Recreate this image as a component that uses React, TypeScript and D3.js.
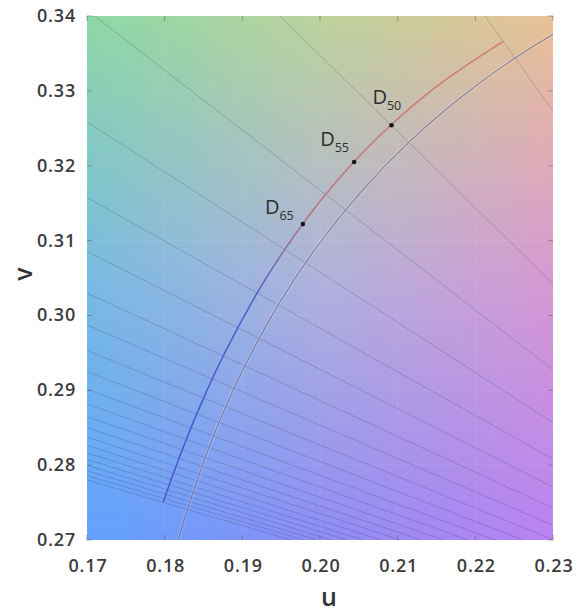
import React from "react";
import * as d3 from "d3";

const W = 579;
const H = 614;

// axes
const uTicks = [0.17, 0.18, 0.19, 0.2, 0.21, 0.22, 0.23];
const vTicks = [0.27, 0.28, 0.29, 0.3, 0.31, 0.32, 0.33, 0.34];

// Planckian locus (Robertson table): mired, u, v
const planckMired = [0, 10, 20, 30, 40, 50, 60, 70, 80, 90, 100, 125, 150, 175, 200, 225, 250, 275, 300];
const planckU = [0.18006, 0.18066, 0.18133, 0.18208, 0.18293, 0.18388, 0.18494, 0.18611, 0.1874, 0.1888, 0.19032, 0.19462, 0.19962, 0.20525, 0.21142, 0.21807, 0.22511, 0.23247, 0.2401];
const planckV = [0.26352, 0.26589, 0.26846, 0.27119, 0.27407, 0.27709, 0.28021, 0.28342, 0.28668, 0.28997, 0.29326, 0.30141, 0.30921, 0.31647, 0.32312, 0.32909, 0.33439, 0.33904, 0.34308];

// Isotherms (every 1000 K): point on locus and isotherm slope dv/du
const isoTemps = [4000, 5000, 6000, 7000, 8000, 9000, 10000, 11000, 12000, 13000, 14000, 15000, 16000, 17000, 18000, 19000, 20000, 21000, 22000, 23000, 24000, 25000];
const isoU = [0.22511, 0.21142, 0.20337, 0.19819, 0.19462, 0.19223, 0.19032, 0.18894, 0.18787, 0.187, 0.18629, 0.18572, 0.18523, 0.18482, 0.18447, 0.18416, 0.18388, 0.18365, 0.18345, 0.18326, 0.18309, 0.18293];
const isoV = [0.33439, 0.32312, 0.31405, 0.30698, 0.30141, 0.29688, 0.29326, 0.29027, 0.28778, 0.28568, 0.28389, 0.28235, 0.28101, 0.27984, 0.27882, 0.27791, 0.27709, 0.27637, 0.27572, 0.27512, 0.27457, 0.27407];
const isoSlope = [-1.4512, -1.0182, -0.80091, -0.66966, -0.58204, -0.52473, -0.47888, -0.44606, -0.42063, -0.4002, -0.38349, -0.36995, -0.35846, -0.34864, -0.34053, -0.33328, -0.32675, -0.3215, -0.31673, -0.31237, -0.30838, -0.3047];

// Daylight locus
const dayTemps = [4000, 4500, 5000, 5500, 6000, 6500, 7000, 8000, 10000, 12500, 15000, 20000, 25000];
const dayU = [0.22358, 0.21533, 0.20914, 0.20442, 0.20074, 0.19782, 0.19546, 0.19191, 0.18755, 0.18456, 0.1828, 0.18085, 0.17982];
const dayV = [0.33661, 0.33083, 0.32544, 0.32056, 0.31618, 0.31229, 0.30883, 0.303, 0.29462, 0.28788, 0.28346, 0.27812, 0.27507];

// Standard illuminants
const illumSub = ["50", "55", "65"];
const illumU = [0.2092, 0.2044, 0.1978];
const illumV = [0.3254, 0.3205, 0.3122];

// layout
const L = 87, R = 553, T = 16, B = 540;
const labelOffsets = [
  [-19, -21],
  [-34, -16],
  [-38, -10],
];

const bgTop = ["#8cd8a6", "#bcd29c", "#e8c196"];
const bgMid = ["#78bbe2", "#b0b2dc", "#d699d2"];
const bgBot = ["#60a2fe", "#8d8df6", "#ba82f2"];

const FONT = "'Open Sans', 'DejaVu Sans', sans-serif";

export default function App() {
  const x = d3.scaleLinear().domain([0.17, 0.23]).range([L, R]);
  const y = d3.scaleLinear().domain([0.27, 0.34]).range([B, T]);

  const strips: { y: number; c: string[] }[] = [];
  const sh = 2;
  for (let yy = T; yy < B; yy += sh) {
    const f = (yy + sh / 2 - T) / (B - T);
    const c = [0, 1, 2].map((i) =>
      f < 0.5
        ? d3.interpolateRgb(bgTop[i], bgMid[i])(f * 2)
        : d3.interpolateRgb(bgMid[i], bgBot[i])((f - 0.5) * 2)
    );
    strips.push({ y: yy, c });
  }

  const line = d3
    .line<[number, number]>()
    .x((d) => x(d[0]))
    .y((d) => y(d[1]))
    .curve(d3.curveCatmullRom.alpha(0.5));

  const planckPts: [number, number][] = planckU.map((u, i) => [u, planckV[i]]);
  const dayPts: [number, number][] = dayU.map((u, i) => [u, dayV[i]]);

  const half = 0.05;
  const isoLines = isoTemps.map((t, i) => {
    const m = isoSlope[i];
    const n = Math.sqrt(1 + m * m);
    const du = half / n;
    const dv = (half * m) / n;
    return {
      t,
      x1: x(isoU[i] - du),
      y1: y(isoV[i] - dv),
      x2: x(isoU[i] + du),
      y2: y(isoV[i] + dv),
    };
  });

  return (
    <svg
      width={W}
      height={H}
      style={{ position: "absolute", left: 0, top: 0, background: "#fff" }}
      fontFamily={FONT}
    >
      <defs>
        {strips.map((s, i) => (
          <linearGradient key={i} id={`bg${i}`} x1="0" x2="1" y1="0" y2="0">
            <stop offset="0" stopColor={s.c[0]} />
            <stop offset="0.5" stopColor={s.c[1]} />
            <stop offset="1" stopColor={s.c[2]} />
          </linearGradient>
        ))}
        <clipPath id="plotClip">
          <rect x={L} y={T} width={R - L} height={B - T} />
        </clipPath>
        <linearGradient
          id="dayGrad"
          gradientUnits="userSpaceOnUse"
          x1={0}
          x2={0}
          y1={y(dayV[dayV.length - 1])}
          y2={y(dayV[0])}
        >
          <stop offset="0" stopColor="#4058cc" />
          <stop offset="0.45" stopColor="#4c5ccc" />
          <stop offset="0.55" stopColor="#8c6aa8" />
          <stop offset="0.62" stopColor="#bd7080" />
          <stop offset="1" stopColor="#cf8070" />
        </linearGradient>
      </defs>

      {strips.map((s, i) => (
        <rect
          key={i}
          x={L}
          y={s.y}
          width={R - L}
          height={Math.min(sh, B - s.y)}
          fill={`url(#bg${i})`}
          shapeRendering="crispEdges"
        />
      ))}

      <g clipPath="url(#plotClip)">
        {uTicks.map((u) => (
          <line key={`gx${u}`} x1={x(u)} x2={x(u)} y1={T} y2={B} stroke="#fff" strokeOpacity={0.08} />
        ))}
        {vTicks.map((v) => (
          <line key={`gy${v}`} x1={L} x2={R} y1={y(v)} y2={y(v)} stroke="#fff" strokeOpacity={0.08} />
        ))}

        {isoLines.map((l) => (
          <line
            key={l.t}
            x1={l.x1}
            y1={l.y1}
            x2={l.x2}
            y2={l.y2}
            stroke="#3a3a5c"
            strokeOpacity={0.24}
            strokeWidth={1}
          />
        ))}

        <path d={line(planckPts) || ""} fill="none" stroke="#ffffff" strokeOpacity={0.18} strokeWidth={3.5} />
        <path d={line(planckPts) || ""} fill="none" stroke="#66668a" strokeOpacity={0.7} strokeWidth={1.2} />

        <path d={line(dayPts) || ""} fill="none" stroke="url(#dayGrad)" strokeWidth={1.5} />
      </g>

      {/* ticks inside on all four sides */}
      {uTicks.map((u) => (
        <g key={`tx${u}`} stroke="#555" strokeOpacity={0.5}>
          <line x1={x(u)} x2={x(u)} y1={B} y2={B - 5} />
          <line x1={x(u)} x2={x(u)} y1={T} y2={T + 5} />
        </g>
      ))}
      {vTicks.map((v) => (
        <g key={`ty${v}`} stroke="#555" strokeOpacity={0.5}>
          <line x1={L} x2={L + 5} y1={y(v)} y2={y(v)} />
          <line x1={R} x2={R - 5} y1={y(v)} y2={y(v)} />
        </g>
      ))}

      {/* tick labels */}
      {uTicks.map((u) => (
        <text
          key={`lx${u}`}
          x={x(u) + 1}
          y={572}
          textAnchor="middle"
          fontSize={18}
          fontWeight={600}
          fill="#3c3c3c"
          letterSpacing={0.8}
        >
          {d3.format(".2f")(u)}
        </text>
      ))}
      {vTicks.map((v) => (
        <text
          key={`ly${v}`}
          x={76}
          y={y(v) + 6}
          textAnchor="end"
          fontSize={18}
          fontWeight={600}
          fill="#3c3c3c"
          letterSpacing={0.8}
        >
          {d3.format(".2f")(v)}
        </text>
      ))}

      {/* axis titles */}
      <text x={329} y={606} textAnchor="middle" fontSize={25} fontWeight={600} fill="#333">
        u
      </text>
      <text
        transform="translate(32,274) rotate(-90)"
        textAnchor="middle"
        fontSize={25}
        fontWeight={600}
        fill="#333"
      >
        v
      </text>

      {/* illuminants */}
      {illumU.map((u, i) => {
        const px = x(u);
        const py = y(illumV[i]);
        const [dx, dy] = labelOffsets[i];
        return (
          <g key={illumSub[i]}>
            <circle cx={px} cy={py} r={2.3} fill="#151515" />
            <text x={px + dx} y={py + dy} fontSize={20} fill="#2e2e2e">
              D
              <tspan dy={6} fontSize={12.5}>
                {illumSub[i]}
              </tspan>
            </text>
          </g>
        );
      })}
    </svg>
  );
}
